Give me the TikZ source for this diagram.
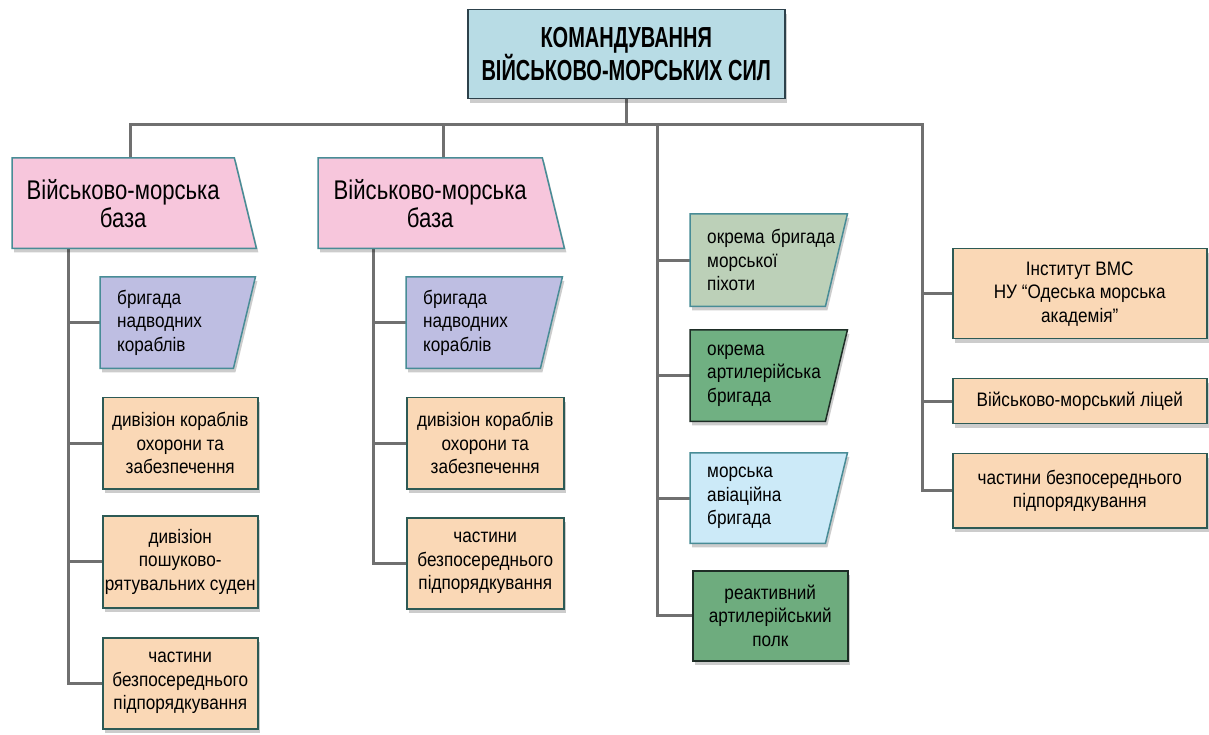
\documentclass[tikz,border=0pt]{standalone}
\usepackage{fontspec}
\setmainfont{Liberation Sans}[FakeStretch=0.82]
\newfontfamily\headfont{Liberation Sans}[FakeStretch=0.69]
\newfontfamily\unitfont{Liberation Sans}[FakeStretch=0.88]
\usetikzlibrary{shadows}

\definecolor{headfill}{RGB}{184,220,229}
\definecolor{headline}{RGB}{45,65,75}
\definecolor{pinkfill}{RGB}{247,198,220}
\definecolor{tealline}{RGB}{72,140,150}
\definecolor{lilac}{RGB}{190,190,226}
\definecolor{peach}{RGB}{250,216,182}
\definecolor{peachline}{RGB}{45,90,85}
\definecolor{sage}{RGB}{188,208,184}
\definecolor{armygreen}{RGB}{112,176,130}
\definecolor{rocketgreen}{RGB}{110,172,126}
\definecolor{sky}{RGB}{204,234,248}
\definecolor{darkline}{RGB}{30,45,38}
\definecolor{linkgray}{RGB}{112,112,112}

\pgfdeclarelayer{links}
\pgfdeclarelayer{shapes}
\pgfsetlayers{links,shapes,main}

\tikzset{
  link/.style={draw=linkgray, line width=3pt, line cap=rect},
  boxshadow/.style={drop shadow={shadow xshift=2pt, shadow yshift=-4pt, fill=black, opacity=.2}},
  headbox/.style={draw=headline, fill=headfill, line width=1.5pt, boxshadow, anchor=north west,
    minimum width=317pt, minimum height=89pt, inner sep=0pt, align=center,
    font=\headfont\bfseries\fontsize{29}{32}\selectfont},
  basebox/.style={anchor=north west, text width=#1, minimum height=90pt, inner sep=0pt,
    align=center, font=\fontsize{27}{28}\selectfont},
  unitbox/.style={draw=peachline, fill=peach, line width=1.5pt, boxshadow, anchor=north west,
    minimum width=#1, inner sep=2pt, align=center, font=\unitfont\fontsize{19.5}{23.5}\selectfont},
  tagbox/.style={anchor=north west, text width=#1, inner sep=0pt, align=left,
    execute at begin node={\leftskip=17pt}, font=\unitfont\fontsize{19.5}{23.5}\selectfont},
  slab/.style={line width=1.5pt, boxshadow},
}

\begin{document}
\begin{tikzpicture}[x=1pt, y=1pt]
  \useasboundingbox (0,0) rectangle (1209,734);

  % command
  \node[headbox] (top) at (467,725) {КОМАНДУВАННЯ\\ВІЙСЬКОВО-МОРСЬКИХ СИЛ};

  % naval bases
  \node[basebox=222pt] (base1) at (12,576) {Військово-морська\\база};
  \node[basebox=224pt] (base2) at (318,576) {Військово-морська\\база};

  % first base
  \node[tagbox=155pt, minimum height=91pt] (b1) at (100,457) {бригада\\надводних\\кораблів};
  \node[unitbox=155pt, minimum height=91pt] (d1) at (102,337) {дивізіон кораблів\\охорони та\\забезпечення};
  \node[unitbox=155pt, minimum height=92pt] (d2) at (102,219) {дивізіон\\пошуково-\\рятувальних суден};
  \node[unitbox=155pt, minimum height=91pt] (d3) at (102,97) {частини\\безпосереднього\\підпорядкування};

  % second base
  \node[tagbox=156pt, minimum height=91pt] (b2) at (406,457) {бригада\\надводних\\кораблів};
  \node[unitbox=157pt, minimum height=91pt] (e1) at (406,337) {дивізіон кораблів\\охорони та\\забезпечення};
  \node[unitbox=157pt, minimum height=91pt] (e2) at (406,217) {частини\\безпосереднього\\підпорядкування};

  % separate units
  \node[tagbox=157pt, minimum height=92pt] (c1) at (690,520) {окрема бригада\\морської\\піхоти};
  \node[tagbox=157pt, minimum height=91pt] (c2) at (690,404) {окрема\\артилерійська\\бригада};
  \node[tagbox=157pt, minimum height=90pt] (c3) at (690,281) {морська\\авіаційна\\бригада};
  \node[unitbox=155pt, draw=darkline, fill=rocketgreen, minimum height=90pt] (c4) at (692,164) {реактивний\\артилерійський\\полк};

  % schools
  \node[unitbox=254pt, minimum height=90pt] (r1) at (952,486) {Інститут ВМС\\НУ “Одеська морська\\академія”};
  \node[unitbox=254pt, minimum height=45pt] (r2) at (952,356) {Військово-морський ліцей};
  \node[unitbox=254pt, minimum height=74pt] (r3) at (952,281) {частини безпосереднього\\підпорядкування};

  \begin{pgfonlayer}{shapes}
    \foreach \n in {base1,base2}
      \draw[slab, draw=tealline, fill=pinkfill] (\n.north west) -- (\n.north east)
        -- ([xshift=22pt]\n.south east) -- (\n.south west) -- cycle;
    \foreach \n/\f/\d in {b1/lilac/tealline, b2/lilac/tealline, c1/sage/tealline,
                          c2/armygreen/darkline, c3/sky/tealline}
      \draw[slab, draw=\d, fill=\f] (\n.north west) -- (\n.north east)
        -- ([xshift=-22pt]\n.south east) -- (\n.south west) -- cycle;
  \end{pgfonlayer}

  \begin{pgfonlayer}{links}
    \fill[white] (0,0) rectangle (1209,734);
    \coordinate (busA) at (130,609);
    \coordinate (busB) at (443,609);
    \coordinate (busC) at (657,609);
    \coordinate (busD) at (922,609);
    \coordinate (sL) at (68,486);
    \coordinate (sM) at (373,486);

    \draw[link] (top.south) -- (top.south |- busA);
    \draw[link] (busA) -- (busD);
    \draw[link] (busA) -- (busA |- base1.north);
    \draw[link] (busB) -- (busB |- base2.north);
    \foreach \n in {b1,d1,d2,d3} \draw[link] (sL) |- (\n.west);
    \foreach \n in {b2,e1,e2} \draw[link] (sM) |- (\n.west);
    \foreach \n in {c1,c2,c3,c4} \draw[link] (busC) |- (\n.west);
    \foreach \n in {r1,r2,r3} \draw[link] (busD) |- (\n.west);
  \end{pgfonlayer}
\end{tikzpicture}
\end{document}
